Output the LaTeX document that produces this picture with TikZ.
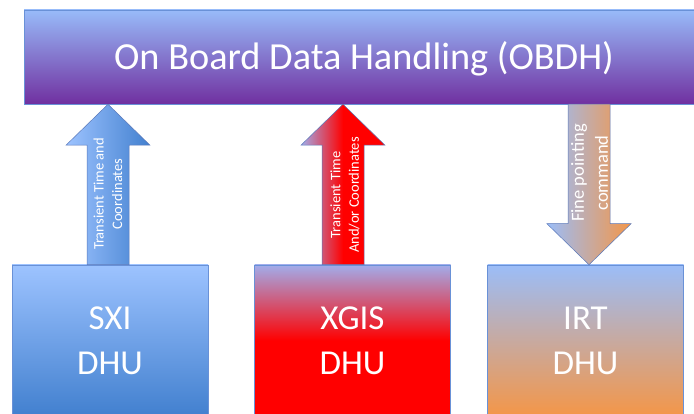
\documentclass[tikz,border=0pt]{standalone}
\usepackage{fontspec}
\setmainfont{Carlito}
\usetikzlibrary{calc}

\definecolor{boxline}{RGB}{105,145,215}
\definecolor{arrline}{RGB}{90,120,185}
\definecolor{obdhtop}{RGB}{152,187,249}
\definecolor{obdhbot}{RGB}{112,48,160}
\definecolor{sxitop}{RGB}{157,195,255}
\definecolor{sxibot}{RGB}{66,128,207}
\definecolor{xgistop}{RGB}{162,172,234}
\definecolor{irttop}{RGB}{155,189,248}
\definecolor{irtbot}{RGB}{244,150,72}

% block arrow from #2 (base) to #3 (tip)
\newcommand{\blockarrow}[3]{%
  \shade[blockarr,#1] let \p1=(#2), \p2=(#3), \n1={41*sign(\y2-\y1)} in
    (\x1-21,\y1) -- (\x1-21,\y2-\n1) -- (\x1-42,\y2-\n1) -- (\x2,\y2)
    -- (\x1+42,\y2-\n1) -- (\x1+21,\y2-\n1) -- (\x1+21,\y1) -- cycle;}

\begin{document}
\begin{tikzpicture}[x=1pt,y=1pt,
  obdhbox/.style={draw=boxline,line width=0.5pt,minimum width=680pt,minimum height=94pt,
    top color=obdhtop,bottom color=obdhbot,text=white,
    text height=24.5pt,text depth=0pt,font=\fontsize{38.3}{46}\selectfont},
  dhubox/.style={draw=boxline,line width=0.5pt,minimum width=196pt,minimum height=151pt,
    text=white,align=center,font=\fontsize{35}{45}\selectfont},
  blockarr/.style={draw=arrline,line width=0.5pt},
  arrtext/.style={rotate=90,text=white,align=center,inner sep=0pt,
    font=\fontsize{14.5}{18.5}\selectfont}]
  \clip (0,0) rectangle (694,414);

  \node[obdhbox] (obdh) at (364,357) {On Board Data Handling (OBDH)};
  \node[dhubox,top color=sxitop,bottom color=sxibot] (sxi) at (110,73.5) {SXI\\DHU};
  \node[dhubox,top color=xgistop,bottom color=red,middle color=red] (xgis) at (352.5,73.5) {XGIS\\DHU};
  \node[dhubox,top color=irttop,bottom color=irtbot] (irt) at (585.5,73.5) {IRT\\DHU};

  \coordinate (sxiarr) at (108,0);
  \coordinate (xgisarr) at (343,0);
  \coordinate (irtarr) at (589,0);

  \blockarrow{left color=sxitop,right color=sxibot}{sxiarr |- sxi.north}{sxiarr |- obdh.south}
  \blockarrow{left color=xgistop,right color=red,middle color=red}{xgisarr |- xgis.north}{xgisarr |- obdh.south}
  \blockarrow{left color=irttop,right color=irtbot}{irtarr |- obdh.south}{irtarr |- irt.north}

  \node[arrtext] (sxitxt) at (108,220) {Transient Time and\\Coordinates};
  \node[arrtext] (xgistxt) at (345,219) {Transient Time\\And/or Coordinates};
  \node[arrtext,font=\fontsize{18.5}{24}\selectfont] (irttxt) at (589.5,241) {Fine pointing\\command};
\end{tikzpicture}
\end{document}
